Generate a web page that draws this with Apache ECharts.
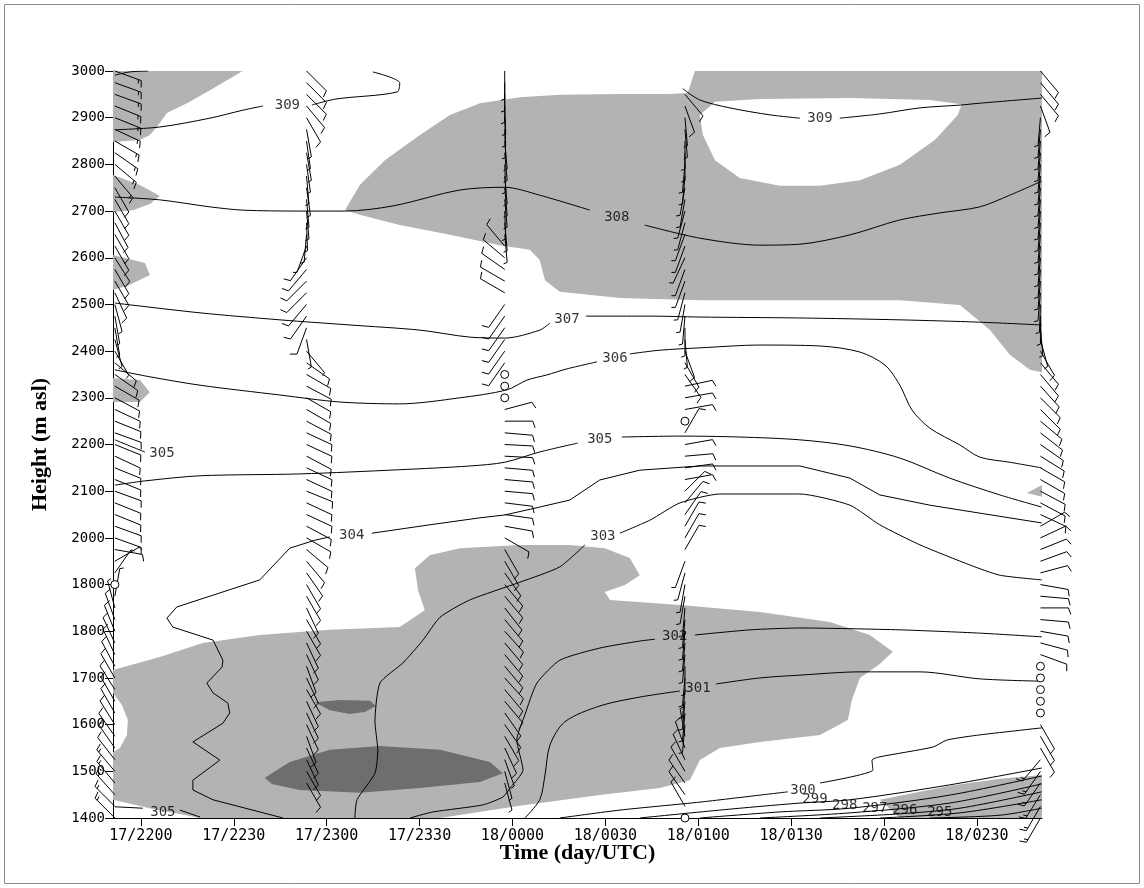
<!DOCTYPE html>
<html><head><meta charset="utf-8">
<script src="https://cdn.jsdelivr.net/npm/echarts@6.0.0/dist/echarts.min.js"></script>
<style>html,body{margin:0;padding:0;background:#fff}#c{width:1144px;height:888px}</style>
</head><body><div id="c"></div>
<script>
// ---------- axes ----------
const X_TICKS=[0,30,60,90,120,150,180,210,240,270]; // minutes after 17/2200 UTC
const X_LABELS=["17/2200","17/2230","17/2300","17/2330","18/0000","18/0030","18/0100","18/0130","18/0200","18/0230"];
const Y_TICKS=[1400,1500,1600,1700,1800,1900,2000,2100,2200,2300,2400,2500,2600,2700,2800,2900,3000];
const Y_LABELS=["1400","1500","1600","1700","1800","1800","2000","2100","2200","2300","2400","2500","2600","2700","2800","2900","3000"];

// ---------- soundings (wind barbs) ----------
const LEVELS=[1400,1425,1450,1475,1500,1525,1550,1575,1600,1625,1650,1675,1700,1725,1750,1775,1800,1825,1850,1875,1900,1925,1950,1975,2000,2025,2050,2075,2100,2125,2150,2175,2200,2225,2250,2275,2300,2325,2350,2375,2400,2425,2450,2475,2500,2525,2550,2575,2600,2625,2650,2675,2700,2725,2750,2775,2800,2825,2850,2875,2900,2925,2950,2975,3000];
const SOUNDING_TIMES=[-8.4,53.5,117.5,175.7,290.5];
const S1_DIR=[315,315,318,320,320,322,325,325,328,330,330,328,330,332,335,335,338,340,345,10,20,35,60,100,110,110,112,112,110,112,112,115,112,110,112,115,118,120,125,130,150,165,170,170,165,155,150,150,148,150,150,152,150,150,150,140,130,125,120,115,112,112,110,110,110];
const S1_SPD=[15,15,15,15,15,10,10,10,10,10,10,10,10,10,10,10,10,10,5,5,0,5,5,10,10,10,10,10,10,10,10,10,10,10,10,10,10,10,10,10,5,5,5,5,5,10,10,10,10,10,10,10,10,10,10,15,15,15,15,15,15,15,15,15,15];
const S2_DIR=[null,null,null,150,150,155,155,160,155,155,155,150,155,160,155,155,150,150,155,150,150,145,140,130,120,118,115,115,112,115,115,118,115,115,118,120,120,118,120,125,140,170,200,215,220,225,225,220,215,200,185,178,175,175,172,175,172,170,172,170,150,140,135,135,135];
const S2_SPD=[null,null,null,10,10,10,10,10,10,10,10,10,10,10,10,10,10,10,10,10,10,10,10,10,10,10,10,10,10,10,10,10,10,10,10,10,10,10,10,10,5,5,10,10,10,10,10,10,10,5,5,5,5,5,5,5,5,5,5,5,10,10,10,10,10];
const S3_DIR=[null,null,null,165,165,160,155,150,145,145,140,140,138,140,140,140,138,140,142,140,140,145,150,150,120,100,98,97,95,95,95,93,93,95,90,75,0,0,0,215,215,215,215,215,215,300,300,305,310,320,175,175,178,175,175,175,178,175,175,178,178,178,180,180,180];
const S3_SPD=[null,null,null,5,5,5,10,10,10,10,10,10,10,10,10,10,10,10,10,10,10,10,10,10,10,10,10,10,10,10,10,10,10,10,10,10,0,0,0,10,10,10,10,10,10,10,10,10,10,10,5,5,5,5,5,5,5,5,5,5,5,5,5,5,5];
const S4_DIR=[0,330,325,325,330,335,340,350,185,185,185,185,185,180,185,185,185,185,185,190,190,195,200,30,30,30,35,40,45,80,82,85,80,30,0,80,80,78,145,150,160,175,180,185,190,195,200,200,205,200,200,195,195,190,190,185,185,180,180,175,175,160,140,null,null];
const S4_SPD=[0,10,10,10,10,10,10,5,5,5,5,5,5,5,5,5,5,5,5,5,5,5,5,10,10,10,10,10,10,10,10,10,10,10,0,10,10,10,10,10,10,5,5,5,5,5,5,5,5,5,5,5,5,5,5,5,5,5,5,5,5,10,10,null,null];
const S5_DIR=[210,210,212,215,215,220,150,150,150,0,0,0,0,0,110,105,100,95,90,95,100,75,70,68,65,60,115,118,118,120,120,122,125,128,130,135,135,138,140,140,150,165,175,180,182,185,185,185,185,185,185,185,185,185,185,185,185,185,185,185,185,160,140,140,140];
const S5_SPD=[15,15,15,15,15,15,10,10,10,0,0,0,0,0,10,10,10,10,10,10,10,10,10,10,10,10,10,10,10,10,10,10,10,10,10,10,10,10,10,10,10,5,5,5,5,5,5,5,5,5,5,5,5,5,5,5,5,5,5,5,5,10,10,10,10];

// ---------- shaded regions (time in min after 17/2200, height m) ----------
const SHADE_TOPLEFT=[[-9,3000],[32.9,3000],[22.3,2959],[14.9,2931],[8.4,2910],[5.2,2880],[2.9,2863],[-0.3,2852],[-9,2848]];
const SHADE_LEFT_2730=[[-9,2777],[-0.3,2756],[6.1,2732],[2.9,2715],[-2.6,2702],[-9,2698]];
const SHADE_LEFT_2570=[[-9,2606],[1.3,2589],[2.9,2563],[-3.6,2542],[-9,2531]];
const SHADE_LEFT_2310=[[-9,2342],[-0.3,2338],[2.9,2312],[-0.3,2291],[-9,2291]];
const SHADE_UPPER=[[65.9,2702],[70.7,2756],[78.8,2809],[90.1,2863],[99.8,2906],[109.5,2931],[122.4,2944],[135.3,2949],[154.7,2951],[170.8,2951],[176.6,2953],[178.9,3000],[291,3000],[291,2355],[287.1,2360],[280.6,2392],[274.2,2445],[264.5,2499],[245.1,2509],[212.8,2509],[180.5,2509],[154.7,2514],[135.3,2527],[130.5,2552],[128.8,2595],[125.6,2617],[115.9,2627],[99.8,2649],[83.6,2670],[70.7,2692]];
const CLEAR_UPPER_HOLE=[[180.5,2906],[185.4,2934],[199.9,2940],[229.0,2942],[254.8,2938],[265.1,2929],[263.8,2906],[256.4,2852],[245.1,2799],[232.2,2766],[219.3,2754],[206.3,2754],[193.4,2771],[185.4,2809],[181.5,2863]];
const SHADE_RIGHT_2100=[[286.1,2096],[291,2113],[291,2088]];
const SHADE_LOWER=[[-9,1717],[6.1,1745],[20.0,1775],[38.4,1792],[61.0,1803],[83.6,1809],[91.7,1845],[89.5,1888],[88.5,1935],[93.3,1963],[103.0,1978],[122.4,1985],[138.5,1985],[149.8,1978],[157.9,1957],[161.1,1920],[156.3,1899],[149.8,1884],[151.5,1867],[174.1,1856],[199.9,1841],[222.5,1820],[235.4,1792],[242.8,1756],[238.6,1730],[232.2,1700],[229.6,1653],[228.3,1610],[219.3,1578],[199.9,1563],[187.0,1550],[180.5,1524],[177.3,1481],[167.6,1464],[148.2,1449],[122.4,1426],[96.6,1400],[19.1,1400],[2.9,1421],[-9,1439],[-9,1541],[-6.8,1550],[-4.5,1578],[-4.2,1610],[-6.1,1642],[-9,1668]];
const SHADE_BOTTOM_RIGHT=[[238.6,1439],[261.2,1469],[277.4,1484],[291,1492],[291,1400],[245.1,1400]];
const DARK_SMALL=[[56.2,1648],[64.3,1653],[74.0,1651],[75.9,1640],[72.3,1627],[67.5,1623],[61.0,1631]];
const DARK_LARGE=[[40.0,1486],[48.1,1520],[61.0,1546],[77.2,1554],[96.6,1546],[112.7,1520],[116.9,1496],[109.5,1477],[90.1,1464],[70.7,1454],[51.3,1460],[42.3,1473]];

// ---------- isentropes (K) ----------
const C310=[[[-8.4,2991],[-3.6,2998],[2.3,3000]]];
const C309_WEST=[[[-8.4,2874],[6.1,2880],[22.3,2899],[32.9,2916],[39.4,2925]],[[55.2,2927],[63.0,2940],[82.7,2955],[83.6,2974],[74.9,2998]]];
const C309_EAST=[[[175.0,2962],[180.5,2938],[190.2,2921],[203.2,2906],[212.8,2899]],[[225.7,2899],[238.6,2908],[251.6,2921],[264.5,2927],[270.9,2931],[290.9,2942]]];
const C308=[[[-8.4,2730],[6.1,2724],[22.3,2709],[32.9,2702],[51.3,2700],[65.9,2700],[81.4,2711],[103.0,2745],[117.5,2751],[128.8,2734],[145.0,2702]],[[162.7,2670],[180.5,2642],[199.9,2627],[212.8,2629],[229.0,2649],[245.1,2681],[258.0,2696],[270.9,2709],[280.6,2734],[290.9,2764]]];
const C307=[[[-8.4,2503],[19.1,2482],[44.9,2467],[67.5,2456],[90.1,2445],[106.2,2430],[117.5,2428],[128.8,2445],[132.1,2460]],[[143.7,2475],[164.4,2475],[180.5,2473],[212.8,2471],[245.1,2467],[270.9,2462],[290.9,2456]]];
const C306=[[[-8.4,2360],[2.9,2345],[19.1,2327],[44.9,2306],[64.3,2291],[83.6,2287],[103.0,2300],[118.2,2317],[124.7,2338],[131.1,2349],[137.6,2362],[147.3,2377]],[[157.9,2394],[167.6,2402],[180.5,2407],[199.9,2413],[219.3,2411],[232.2,2398],[240.3,2370],[245.1,2327],[249.0,2274],[254.8,2235],[264.5,2199],[270.9,2173],[280.6,2162],[290.9,2150]]];
const C305=[[[-8.4,2210],[-3.6,2197],[1.3,2184]],[[-8.4,2113],[1.3,2122],[19.1,2133],[51.3,2137],[83.6,2146],[106.2,2154],[117.5,2162],[128.8,2184],[141.1,2203]],[[155.3,2216],[174.1,2218],[193.5,2216],[212.8,2210],[229.0,2197],[245.1,2171],[261.2,2128],[277.4,2092],[290.9,2066]]];
const C305_SURFACE=[[[-8.4,1424],[0.6,1421]],[[12.6,1417],[19.1,1402]]];
const C304=[[[45.9,1400],[23.3,1439],[16.8,1460],[16.8,1481],[25.5,1524],[16.8,1563],[26.5,1603],[28.7,1625],[28.1,1646],[23.3,1668],[21.3,1689],[26.2,1723],[26.5,1738],[23.3,1781],[10.3,1809],[8.4,1828],[11.6,1852],[38.4,1910],[48.1,1978],[56.2,1995],[61.0,2002]],[[74.6,2010],[93.3,2028],[109.5,2043],[117.5,2049],[128.8,2066],[138.5,2081],[148.2,2124],[161.1,2145],[180.5,2154],[212.8,2154],[229.0,2128],[238.6,2092],[254.8,2070],[270.9,2053],[290.9,2032]]];
const C303=[[[69.1,1400],[69.8,1439],[75.6,1496],[76.5,1546],[75.6,1606],[77.2,1689],[84.6,1732],[91.1,1781],[96.6,1830],[106.2,1867],[122.4,1905],[135.3,1938],[143.4,1985]],[[154.7,2010],[164.4,2038],[174.1,2075],[187.0,2094],[212.8,2094],[229.0,2070],[238.6,2028],[251.6,1985],[267.7,1942],[277.4,1920],[290.9,1910]]];
const C302=[[[86.9,1400],[94.3,1413],[110.4,1428],[116.9,1445],[119.2,1464],[123.4,1503],[121.4,1567],[124.0,1621],[127.9,1689],[135.3,1738],[148.2,1764],[161.1,1779],[166.0,1783]],[[178.9,1792],[196.7,1803],[212.8,1807],[245.1,1803],[270.9,1796],[290.9,1788]]];
const C301=[[[124.0,1400],[128.8,1439],[130.5,1492],[132.1,1556],[136.9,1606],[148.2,1640],[161.1,1659],[174.1,1672]],[[185.7,1687],[199.9,1700],[212.8,1706],[232.2,1713],[251.6,1713],[270.9,1698],[290.9,1693]]];
const C300=[[[135.3,1400],[154.7,1417],[180.5,1434],[199.9,1449],[208.9,1456]],[[219.3,1475],[236.4,1503],[236.1,1524],[238.6,1531],[255.8,1552],[260.3,1567],[270.9,1578],[290.9,1593]]];
const C299=[[[161.1,1400],[187.0,1417],[212.8,1432],[229.0,1439],[261.2,1471],[290.9,1507]]];
const C298=[[[180.5,1400],[206.3,1413],[229.0,1421],[261.2,1449],[290.9,1490]]];
const C297=[[[199.9,1400],[229.0,1411],[261.2,1432],[290.9,1473]]];
const C296=[[[219.3,1400],[245.1,1409],[264.5,1421],[290.9,1456]]];
const C295=[[[238.6,1400],[264.5,1411],[290.9,1439]]];
const C294=[[[254.8,1400],[277.4,1406],[290.9,1421]]];
const CONTOUR_LABELS=[[47.3,2927,"309"],[219.3,2899,"309"],[153.7,2687,"308"],[137.6,2467,"307"],[153.1,2385,"306"],[6.8,2182,"305"],[148.2,2210,"305"],[68.1,2006,"304"],[149.2,2004,"303"],[172.4,1788,"302"],[179.9,1678,"301"],[213.8,1460,"300"],[217.7,1439,"299"],[227.3,1428,"298"],[237.0,1421,"297"],[246.7,1417,"296"],[258.0,1413,"295"],[7.1,1413,"305"]];

// ---------- build ----------
const soundings=[[S1_DIR,S1_SPD],[S2_DIR,S2_SPD],[S3_DIR,S3_SPD],[S4_DIR,S4_SPD],[S5_DIR,S5_SPD]];
const barbData=[];
soundings.forEach((s,k)=>{LEVELS.forEach((h,i)=>{if(s[0][i]!==null&&s[1][i]!==null)barbData.push([SOUNDING_TIMES[k],h,s[0][i],s[1][i]]);});});

const shades=[
 {pts:SHADE_TOPLEFT,c:'#b3b3b3'},{pts:SHADE_LEFT_2730,c:'#b3b3b3'},{pts:SHADE_LEFT_2570,c:'#b3b3b3'},{pts:SHADE_LEFT_2310,c:'#b3b3b3'},
 {pts:SHADE_UPPER,c:'#b3b3b3'},{pts:CLEAR_UPPER_HOLE,c:'#ffffff'},{pts:SHADE_RIGHT_2100,c:'#b3b3b3'},
 {pts:SHADE_LOWER,c:'#b3b3b3'},{pts:SHADE_BOTTOM_RIGHT,c:'#b3b3b3'},{pts:DARK_SMALL,c:'#6e6e6e'},{pts:DARK_LARGE,c:'#6e6e6e'}];

const FONT_MONO='DejaVu Sans Mono';
const series=[];
series.push({type:'custom',coordinateSystem:'cartesian2d',silent:true,z:1,clip:true,animation:false,
  data:shades.map((s,i)=>[s.pts[0][0],s.pts[0][1],i]),
  renderItem:(params,api)=>{const s=shades[params.dataIndex];return {type:'polygon',shape:{points:s.pts.map(p=>api.coord(p))},style:{fill:s.c,stroke:null}};}});

const contourSets=[[C310,0.3],[C309_WEST,0.3],[C309_EAST,0.3],[C308,0.3],[C307,0.3],[C306,0.3],[C305,0.3],[C305_SURFACE,0],[C304,0],[C303,0.2],[C302,0.2],[C301,0.3],[C300,0.2],[C299,0.3],[C298,0.3],[C297,0.3],[C296,0.3],[C295,0.3],[C294,0.3]];
contourSets.forEach(([segs,sm])=>segs.forEach(seg=>series.push({type:'line',data:seg,symbol:'none',smooth:sm,silent:true,z:3,animation:false,lineStyle:{color:'#000',width:1}})));

series.push({type:'custom',coordinateSystem:'cartesian2d',silent:true,z:4,clip:false,animation:false,data:barbData,
  renderItem:(params,api)=>{
    const p=api.coord([api.value(0),api.value(1)]);const d=api.value(2),s=api.value(3);
    if(!s){return {type:'circle',shape:{cx:p[0],cy:p[1],r:4},style:{stroke:'#000',fill:'#fff',lineWidth:1}};}
    const r=d*Math.PI/180,ux=Math.sin(r),uy=-Math.cos(r),px=Math.cos(r),py=Math.sin(r);
    const L=28,st={stroke:'#000',lineWidth:1,fill:null};
    const ch=[{type:'line',shape:{x1:p[0],y1:p[1],x2:p[0]+ux*L,y2:p[1]+uy*L},style:st}];
    let n=s,k=0;
    const feather=(len)=>{const bx=p[0]+ux*(L-k*3),by=p[1]+uy*(L-k*3);
      ch.push({type:'line',shape:{x1:bx,y1:by,x2:bx+len*(px*0.94+ux*0.34),y2:by+len*(py*0.94+uy*0.34)},style:st});k++;};
    while(n>=10){feather(7);n-=10;}
    if(n>=5){feather(4);}
    return {type:'group',children:ch};
  }});

series.push({type:'scatter',data:CONTOUR_LABELS,symbolSize:0,silent:true,z:5,animation:false,
  label:{show:true,position:'inside',formatter:p=>p.data[2],color:'#000',fontFamily:FONT_MONO,fontSize:14}});

const chart=echarts.init(document.getElementById('c'),null,{renderer:'canvas'});
chart.setOption({
  animation:false,backgroundColor:'#fff',
  grid:{left:113,top:71,width:929,height:747,containLabel:false},
  xAxis:{type:'value',min:-9,max:291,
    name:'Time (day/UTC)',nameLocation:'middle',nameGap:24,nameMoveOverlap:false,
    nameTextStyle:{fontFamily:'Liberation Serif',fontWeight:'bold',fontSize:22,color:'#000',verticalAlign:'top'},
    axisLine:{show:true,onZero:false,lineStyle:{color:'#000',width:1}},
    axisTick:{show:true,length:8,customValues:X_TICKS,lineStyle:{color:'#000'}},
    axisLabel:{show:true,customValues:X_TICKS,formatter:v=>X_LABELS[X_TICKS.indexOf(v)],fontFamily:FONT_MONO,fontSize:15,color:'#000',margin:11},
    splitLine:{show:false}},
  yAxis:{type:'value',min:1400,max:3000,interval:100,
    name:'Height (m asl)',nameLocation:'middle',nameGap:62,nameRotate:90,nameMoveOverlap:false,
    nameTextStyle:{fontFamily:'Liberation Serif',fontWeight:'bold',fontSize:22,color:'#000'},
    axisLine:{show:true,onZero:false,lineStyle:{color:'#000',width:1}},
    axisTick:{show:true,length:8,lineStyle:{color:'#000'}},
    axisLabel:{formatter:v=>Y_LABELS[Y_TICKS.indexOf(v)],fontFamily:FONT_MONO,fontSize:14,color:'#000',margin:8},
    splitLine:{show:false}},
  graphic:[{type:'rect',silent:true,z:100,shape:{x:4.5,y:4.5,width:1135,height:879},style:{fill:null,stroke:'#888',lineWidth:1}}],
  series:series
});
</script></body></html>
